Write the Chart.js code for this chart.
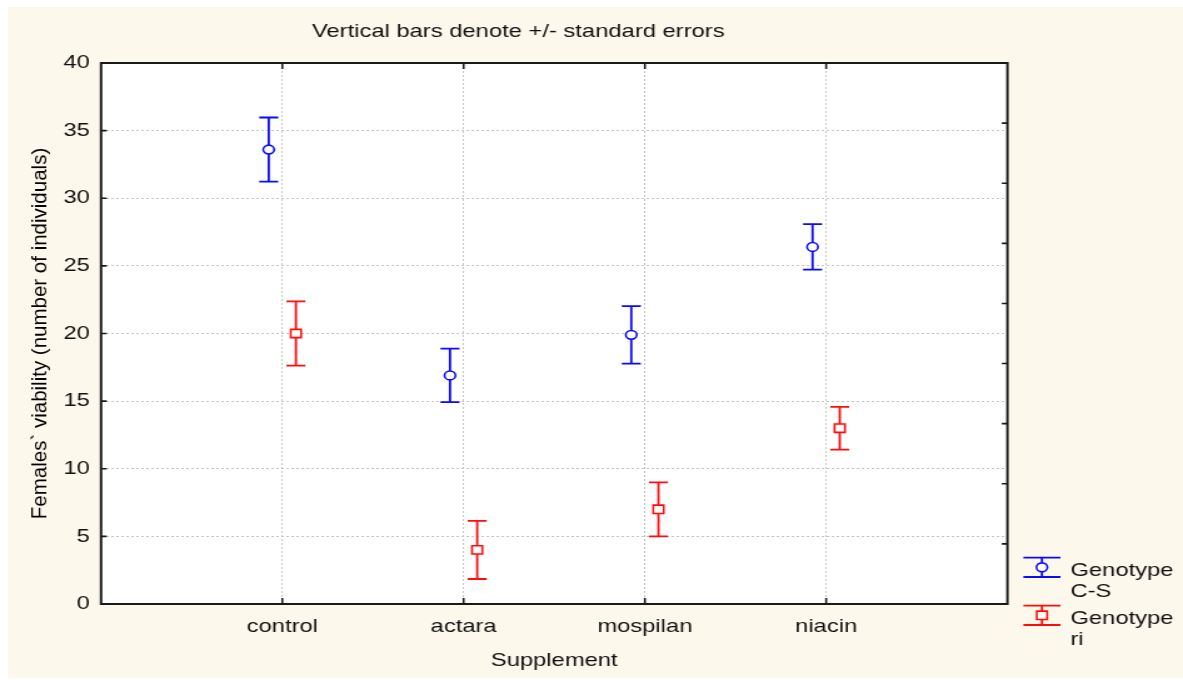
<!DOCTYPE html>
<html><head><meta charset="utf-8">
<script src="https://cdn.jsdelivr.net/npm/chart.js@4.4.1/dist/chart.umd.min.js"></script>
<style>
html,body{margin:0;padding:0;background:#fff;width:1183px;height:680px;overflow:hidden;}
#panel{position:absolute;left:8px;top:7px;width:1175px;height:671px;background:#fdf8ec;}
#wrap{position:absolute;left:0;top:0;width:946px;height:680px;transform-origin:0 0;transform:scaleX(1.250528541);}
</style></head><body>
<div id="panel"></div>
<div id="wrap"><canvas id="c" width="946" height="680" style="width:946px;height:680px;display:block"></canvas></div>
<script>
// ---- data ----
const categories = ['control', 'actara', 'mospilan', 'niacin'];
const seriesNames = ['Genotype C-S', 'Genotype ri'];
const csMean = [33.6, 16.9, 19.9, 26.4];
const csSE   = [2.37, 1.98, 2.13, 1.68];
const riMean = [20.0, 4.0, 7.0, 13.0];
const riSE   = [2.37, 2.15, 2.0, 1.58];
const yTicks = [0, 5, 10, 15, 20, 25, 30, 35, 40];
const rightTicks = [0, 1, 2, 3, 4, 5, 6, 7, 8, 9];
const chartTitle = 'Vertical bars denote +/- standard errors';
const xTitle = 'Supplement';
const yTitle = 'Females` viability (number of individuals)';

// ---- style ----
const S = 1183 / 946;          // horizontal stretch of the canvas
const dodge = 0.075;
const FONT = "'Liberation Sans', Arial, Helvetica, sans-serif";
const BLUE = '#0a0aff', RED = '#ff0d0d';
Chart.defaults.font.family = FONT;
Chart.defaults.color = '#000';

function pts(means, sign) { return means.map((m, i) => ({x: i + 1 + sign * dodge, y: m})); }

const bgPlugin = {
  id: 'bg',
  beforeDraw(chart) {
    const {ctx, chartArea: a} = chart;
    ctx.save(); ctx.fillStyle = '#fff';
    ctx.fillRect(a.left, a.top, a.right - a.left, a.bottom - a.top);
    ctx.restore();
  }
};

const errorBars = {
  id: 'errorBars',
  beforeDatasetsDraw(chart) {
    const {ctx, scales: {x, y}} = chart;
    chart.data.datasets.forEach(ds => {
      ctx.save();
      ctx.strokeStyle = ds.borderColor; ctx.lineWidth = 1.8;
      ds.data.forEach((p, i) => {
        const px = x.getPixelForValue(p.x);
        const top = y.getPixelForValue(p.y + ds.errors[i]);
        const bot = y.getPixelForValue(p.y - ds.errors[i]);
        const w = 7.6;
        ctx.beginPath();
        ctx.moveTo(px, top); ctx.lineTo(px, bot);
        ctx.moveTo(px - w, top); ctx.lineTo(px + w, top);
        ctx.moveTo(px - w, bot); ctx.lineTo(px + w, bot);
        ctx.stroke();
      });
      ctx.restore();
    });
  }
};

const framePlugin = {
  id: 'frame',
  afterDraw(chart) {
    const {ctx, chartArea: a, scales: {x, y, y2}} = chart;
    ctx.save();
    ctx.strokeStyle = '#1a1a1a'; ctx.lineWidth = 2;
    ctx.strokeRect(a.left, a.top, a.right - a.left, a.bottom - a.top);
    ctx.lineWidth = 1.6;
    ctx.beginPath();
    yTicks.forEach(v => { const py = y.getPixelForValue(v); ctx.moveTo(a.left, py); ctx.lineTo(a.left + 4.5, py); });
    rightTicks.forEach(v => { const py = y2.getPixelForValue(v); ctx.moveTo(a.right, py); ctx.lineTo(a.right - 4.5, py); });
    categories.forEach((c, i) => {
      const px = x.getPixelForValue(i + 1);
      ctx.moveTo(px, a.bottom); ctx.lineTo(px, a.bottom - 6);
      ctx.moveTo(px, a.top); ctx.lineTo(px, a.top + 6);
    });
    ctx.stroke();
    ctx.restore();

    // rotated y-axis title (drawn without the horizontal stretch)
    ctx.save();
    ctx.translate(32, (a.top + a.bottom) / 2);
    ctx.scale(1 / S, 1);
    ctx.rotate(-Math.PI / 2);
    ctx.fillStyle = '#000';
    ctx.font = '20.5px ' + FONT;
    ctx.textAlign = 'center'; ctx.textBaseline = 'middle';
    ctx.fillText(yTitle, 0, 0);
    ctx.restore();

    // legend
    const lx0 = a.right + 12.8, lx1 = a.right + 42.4, lxc = a.right + 27.6, tx = a.right + 50.4;
    const centers = [a.bottom - 36.7, a.bottom + 11.3];
    chart.data.datasets.forEach((ds, di) => {
      const cy = centers[di];
      ctx.save();
      ctx.strokeStyle = ds.borderColor; ctx.lineWidth = 1.8;
      ctx.beginPath();
      ctx.moveTo(lx0, cy - 9.7); ctx.lineTo(lx1, cy - 9.7);
      ctx.moveTo(lx0, cy + 9.7); ctx.lineTo(lx1, cy + 9.7);
      ctx.moveTo(lxc, cy - 9.7); ctx.lineTo(lxc, cy + 9.7);
      ctx.stroke();
      ctx.fillStyle = '#fff'; ctx.strokeStyle = ds.borderColor; ctx.lineWidth = ds.pointBorderWidth;
      ctx.beginPath();
      if (ds.pointStyle === 'circle') { ctx.arc(lxc, cy, ds.pointRadius, 0, Math.PI * 2); }
      else { const h = ds.pointRadius * Math.SQRT1_2; ctx.rect(lxc - h, cy - h, 2 * h, 2 * h); }
      ctx.fill(); ctx.stroke();
      ctx.fillStyle = '#111'; ctx.font = '19px ' + FONT;
      ctx.textAlign = 'left'; ctx.textBaseline = 'alphabetic';
      ds.label.split(' ').forEach((line, li) => ctx.fillText(line, tx, cy + 8.7 + li * 20.7));
      ctx.restore();
    });
  }
};

new Chart(document.getElementById('c'), {
  type: 'scatter',
  data: {
    datasets: [
      {label: seriesNames[0], data: pts(csMean, -1), errors: csSE, borderColor: BLUE,
       pointStyle: 'circle', pointRadius: 4.4, pointBorderWidth: 1.6,
       pointBackgroundColor: '#fff', pointBorderColor: BLUE, showLine: false},
      {label: seriesNames[1], data: pts(riMean, 1), errors: riSE, borderColor: RED,
       pointStyle: 'rect', pointRadius: 5.9, pointBorderWidth: 1.6,
       pointBackgroundColor: '#fff', pointBorderColor: RED, showLine: false}
    ]
  },
  options: {
    responsive: false, animation: false, devicePixelRatio: 1, events: [],
    layout: {padding: {left: 23.2, right: 140.4, top: 0, bottom: 0}},
    plugins: {
      legend: {display: false}, tooltip: {enabled: false},
      title: {display: true, text: chartTitle, color: '#111',
              font: {size: 19, weight: 'normal'}, padding: {top: 20.6, bottom: 19.6}}
    },
    scales: {
      x: {
        type: 'linear', position: 'bottom', min: 0, max: categories.length + 1,
        afterBuildTicks: s => { s.ticks = categories.map((c, i) => ({value: i + 1})); },
        afterFit: s => { s.height = 76; },
        ticks: {callback: v => categories[v - 1] ?? '', font: {size: 19}, padding: 11,
                autoSkip: false, maxRotation: 0, minRotation: 0, color: '#111'},
        grid: {color: '#c4c4c4', lineWidth: 1, drawTicks: false},
        border: {display: false, dash: [2, 2]},
        title: {display: true, text: xTitle, font: {size: 19}, color: '#111', padding: {top: 0, bottom: 8}}
      },
      y: {
        type: 'linear', position: 'left', min: 0, max: 40,
        afterBuildTicks: s => { s.ticks = yTicks.map(v => ({value: v})); },
        afterFit: s => { s.width = 57.6; },
        ticks: {callback: v => String(v), font: {size: 19}, padding: 9, color: '#111'},
        grid: {color: '#c4c4c4', lineWidth: 1, drawTicks: false},
        border: {display: false, dash: [2, 2]}
      },
      y2: {
        type: 'linear', position: 'right', min: 0, max: rightTicks[rightTicks.length - 1],
        afterBuildTicks: s => { s.ticks = rightTicks.map(v => ({value: v})); },
        afterFit: s => { s.width = 0; },
        ticks: {display: false}, grid: {display: false, drawTicks: false}, border: {display: false}
      }
    }
  },
  plugins: [bgPlugin, errorBars, framePlugin]
});
</script>
</body></html>
